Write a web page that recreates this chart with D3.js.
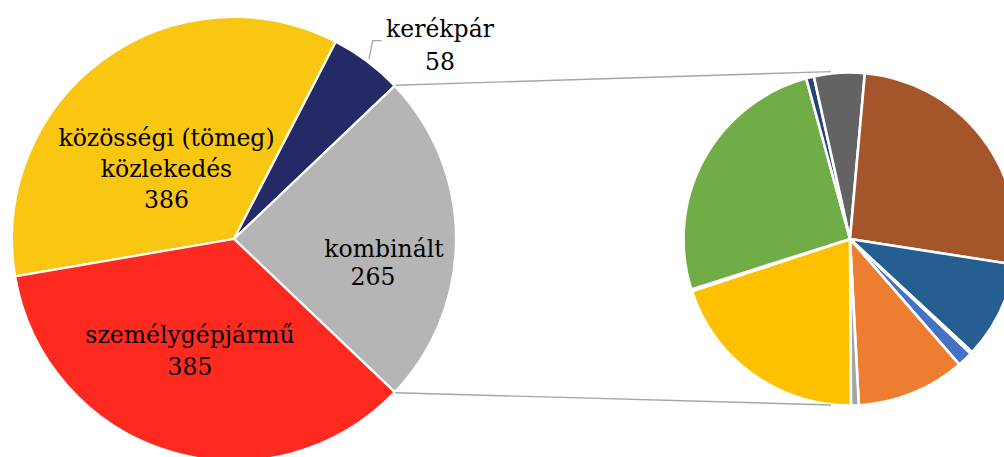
<!DOCTYPE html>
<html>
<head>
<meta charset="utf-8">
<script src="https://cdn.jsdelivr.net/npm/d3@7"></script>
<style>
  html, body { margin: 0; padding: 0; background: #fff; }
  svg { display: block; }
  text { font-family: "DejaVu Serif", serif; fill: #000; }
</style>
</head>
<body>
<svg id="chart" width="1004" height="457"></svg>
<script>
// ---- data ----
const mainCategories = ["közösségi (tömeg) közlekedés", "kerékpár", "kombinált", "személygépjármű"];
const mainValues = [386, 58, 265, 385];
const mainColors = ["#F9C612", "#232A66", "#B5B5B5", "#FF2A1F"];
const mainLabelLines = [["közösségi (tömeg)", "közlekedés"], ["kerékpár"], ["kombinált"], ["személygépjármű"]];

const subCategories = ["1", "2", "3", "4", "5", "6", "7", "8", "9", "10", "11"];
const subValues = [4, 28, 2, 53, 0.5, 68, 2, 13, 69, 25, 0.5];
const subColors = ["#4472C4", "#ED7D31", "#A5A5A5", "#FFC000", "#5B9BD5", "#70AD47",
                   "#264478", "#636363", "#A5552A", "#255E91", "#7F7F7F"];
const splitCategory = "kombinált";

// ---- layout ----
const W = 1004, H = 457;
const main = { cx: 234, cy: 239, r: 222 };
const sub = { cx: 850, cy: 239, r: 166.5, startDeg: 133.5 };
const fontSize = 23.5;
// label anchors (relative to main pie centre): first baseline, per-line x centres
const labelLayout = [
  { xs: [-67.5, -67.5, -67.5], y: -93.5, lh: 31 },
  { xs: [206, 206], y: -202, lh: 33 },
  { xs: [150, 139], y: 18, lh: 27.5 },
  { xs: [-44, -44], y: 104, lh: 32 }
];

const svg = d3.select("#chart");
const deg = Math.PI / 180;

// ---- main pie ----
const total = d3.sum(mainValues);
const splitIdx = mainCategories.indexOf(splitCategory);
const before = d3.sum(mainValues.slice(0, splitIdx));
const start = Math.PI / 2 - (before + mainValues[splitIdx] / 2) / total * 2 * Math.PI;

const mainPie = d3.pie().sort(null).value(d => d.v)
  .startAngle(start).endAngle(start + 2 * Math.PI);
const mainData = mainPie(mainCategories.map((c, i) => ({ c, v: mainValues[i], i })));
const mainArc = d3.arc().innerRadius(0).outerRadius(main.r);

const gMain = svg.append("g").attr("transform", `translate(${main.cx},${main.cy})`);
gMain.selectAll("path").data(mainData).join("path")
  .attr("d", mainArc)
  .attr("fill", d => mainColors[d.data.i])
  .attr("stroke", "#fff").attr("stroke-width", 2.2).attr("stroke-linejoin", "round");

// ---- sub pie ----
const subPie = d3.pie().sort(null).value(d => d.v)
  .startAngle(sub.startDeg * deg).endAngle(sub.startDeg * deg + 2 * Math.PI);
const subData = subPie(subCategories.map((c, i) => ({ c, v: subValues[i], i })));
const subArc = d3.arc().innerRadius(0).outerRadius(sub.r);
const gSub = svg.append("g").attr("transform", `translate(${sub.cx},${sub.cy})`);
gSub.selectAll("path").data(subData).join("path")
  .attr("d", subArc)
  .attr("fill", d => subColors[d.data.i])
  .attr("stroke", "#fff").attr("stroke-width", 2.6).attr("stroke-linejoin", "round");

// ---- connector lines ----
const sd = mainData[splitIdx];
const pt = (cx, cy, r, a) => [cx + r * Math.sin(a), cy - r * Math.cos(a)];
const p1 = pt(main.cx, main.cy, main.r + 1, sd.startAngle);
const p2 = pt(main.cx, main.cy, main.r + 1, sd.endAngle);
const q1 = pt(sub.cx, sub.cy, sub.r + 2, -6.5 * deg);
const q2 = pt(sub.cx, sub.cy, sub.r + 0.5, 186.5 * deg);
svg.append("g").selectAll("line").data([[p1, q1], [p2, q2]]).join("line")
  .attr("x1", d => d[0][0]).attr("y1", d => d[0][1])
  .attr("x2", d => d[1][0]).attr("y2", d => d[1][1])
  .attr("stroke", "#A6A6A6").attr("stroke-width", 1.4);

// ---- labels ----
const gLab = svg.append("g").attr("transform", `translate(${main.cx},${main.cy})`);
mainData.forEach((d, k) => {
  const L = labelLayout[d.data.i];
  const lines = mainLabelLines[d.data.i].concat([String(d.data.v)]);
  lines.forEach((t, j) => {
    gLab.append("text")
      .attr("x", L.xs[j]).attr("y", L.y + j * L.lh)
      .attr("text-anchor", "middle")
      .attr("font-size", fontSize)
      .text(t);
  });
});

// leader line for the small slice
const kIdx = mainCategories.indexOf("kerékpár");
const kd = mainData[kIdx];
const mid = (kd.startAngle + kd.endAngle) / 2;
const ls = pt(0, 0, main.r + 3, mid);
const elbow = [138.7, -198.3];
const lend = [147.7, -198.3];
gLab.append("path")
  .attr("d", d3.line()([ls, elbow, lend]))
  .attr("fill", "none").attr("stroke", "#A6A6A6").attr("stroke-width", 1.3);
</script>
</body>
</html>
